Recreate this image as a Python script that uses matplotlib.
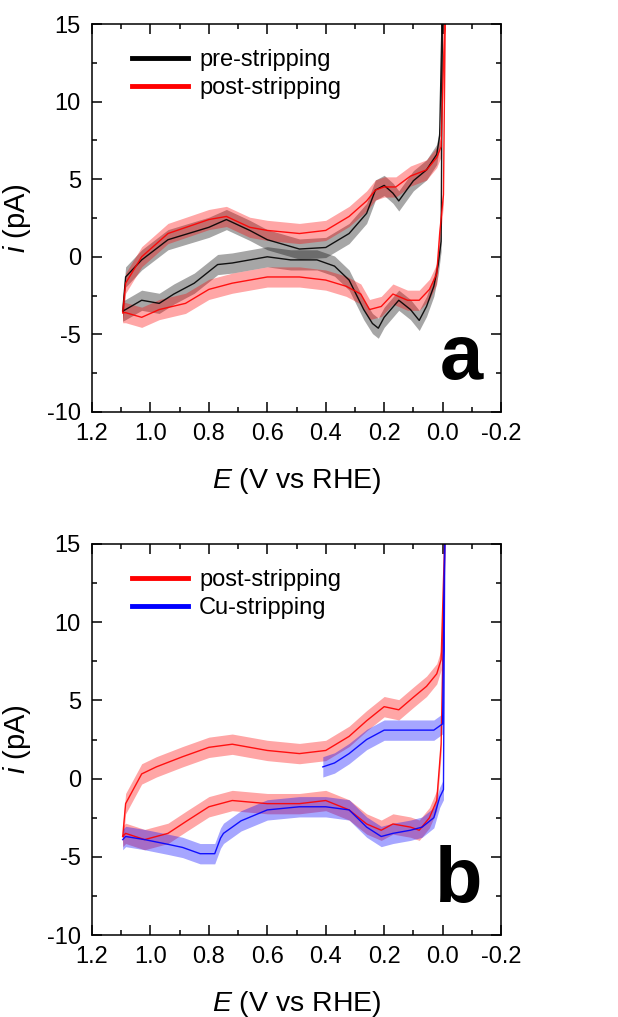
import numpy as np
import matplotlib
matplotlib.use("Agg")
import matplotlib.pyplot as plt
from matplotlib.ticker import MultipleLocator

plt.rcParams["font.family"] = ["Liberation Sans", "DejaVu Sans"]
plt.rcParams["mathtext.fontset"] = "custom"
plt.rcParams["mathtext.it"] = "Liberation Sans:italic"
plt.rcParams["mathtext.rm"] = "Liberation Sans"
plt.rcParams["axes.unicode_minus"] = False

# --- datos (E en V vs RHE, i en pA) ---
# rama inferior (barrido catodico) y rama superior (anodico), de E alto a E bajo
# panel a: pre-stripping
pre_E_dn = [1.095, 1.085, 1.03, 0.97, 0.92, 0.85, 0.77, 0.72, 0.60, 0.52, 0.43, 0.37,
            0.32, 0.27, 0.24, 0.22, 0.20, 0.15, 0.11, 0.08, 0.055, 0.03, 0.015, 0.005]
pre_i_dn = [-3.5, -3.4, -2.8, -3.0, -2.4, -1.7, -0.5, -0.4, 0.0, -0.2, -0.2, -0.6,
            -1.5, -3.4, -4.3, -4.6, -3.9, -2.8, -3.4, -4.1, -3.2, -1.9, -0.5, 1.0]
pre_E_up = [1.095, 1.085, 1.03, 0.94, 0.80, 0.74, 0.66, 0.60, 0.49, 0.40, 0.32, 0.26,
            0.23, 0.20, 0.17, 0.15, 0.10, 0.055, 0.02, 0.01]
pre_i_up = [-3.5, -1.3, -0.2, 1.1, 1.9, 2.4, 1.7, 1.1, 0.5, 0.6, 1.5, 2.8,
            4.3, 4.6, 4.1, 3.6, 4.9, 5.6, 6.6, 7.8]
pre_spike_E = 0.0

# panel a: post-stripping
posta_E_dn = [1.095, 1.085, 1.03, 0.97, 0.88, 0.80, 0.72, 0.60, 0.49, 0.40, 0.33, 0.28,
              0.25, 0.21, 0.17, 0.12, 0.08, 0.045, 0.02, 0.01, -0.003]
posta_i_dn = [-3.6, -3.6, -3.9, -3.4, -3.0, -2.1, -1.7, -1.3, -1.3, -1.5, -1.9, -2.4,
              -3.4, -3.2, -2.4, -2.8, -2.8, -2.1, -1.1, 1.5, 4.0]
posta_E_up = [1.095, 1.085, 1.03, 0.94, 0.80, 0.74, 0.66, 0.60, 0.49, 0.40, 0.32, 0.26,
              0.23, 0.20, 0.16, 0.11, 0.055, 0.02, 0.005]
posta_i_up = [-3.6, -1.7, 0.0, 1.5, 2.4, 2.6, 1.9, 1.7, 1.5, 1.7, 2.6, 3.6,
              4.3, 4.5, 4.5, 5.2, 5.6, 6.4, 7.1]
posta_spike_E = -0.01

# panel b: post-stripping
postb_E_dn = [1.095, 1.085, 1.02, 0.94, 0.875, 0.80, 0.72, 0.60, 0.49, 0.40, 0.32, 0.26,
              0.21, 0.17, 0.11, 0.08, 0.045, 0.02, 0.005]
postb_i_dn = [-3.7, -3.5, -3.9, -3.5, -2.7, -1.8, -1.4, -1.6, -1.6, -1.4, -2.0, -2.9,
              -3.3, -2.9, -3.1, -3.3, -2.5, -1.4, 2.2]
postb_E_up = [1.095, 1.085, 1.03, 0.98, 0.89, 0.80, 0.72, 0.60, 0.49, 0.40, 0.32, 0.26,
              0.20, 0.15, 0.10, 0.055, 0.02, 0.005]
postb_i_up = [-3.7, -1.6, 0.3, 0.75, 1.4, 2.0, 2.2, 1.8, 1.6, 1.8, 2.7, 3.7,
              4.6, 4.4, 5.2, 5.9, 6.7, 7.6]
postb_spike_E = -0.01

# panel b: Cu-stripping (empieza en 0.4 V)
cu_E_up = [0.41, 0.37, 0.32, 0.26, 0.20, 0.15, 0.09, 0.03, 0.0]
cu_i_up = [0.75, 1.0, 1.6, 2.5, 3.1, 3.1, 3.1, 3.1, 3.5]
cu_E_dn = [1.095, 1.085, 1.02, 0.94, 0.89, 0.83, 0.78, 0.76, 0.75, 0.69, 0.60, 0.49,
           0.40, 0.32, 0.26, 0.21, 0.17, 0.11, 0.07, 0.03, 0.01, -0.003]
cu_i_dn = [-3.9, -3.7, -3.9, -4.2, -4.4, -4.8, -4.8, -3.8, -3.5, -2.7, -2.0, -1.8,
           -1.8, -2.0, -3.1, -3.7, -3.5, -3.3, -3.1, -2.5, -1.2, -0.7]
cu_spike_E = -0.008

noise = 0.65  # semi-ancho aprox. del ruido (pA)


def draw_cv(ax, E_dn, i_dn, E_up, i_up, spike_E, color, label, close_loop=True):
    E_dn, i_dn = np.array(E_dn), np.array(i_dn)
    E_up, i_up = np.array(E_up), np.array(i_up)
    for E, i in [(E_dn, i_dn), (E_up, i_up)]:
        ax.fill_between(E, i - noise, i + noise, color=color, alpha=0.35, lw=0)
    if close_loop:
        E_all = np.concatenate([E_dn, [spike_E], E_up[::-1]])
        i_all = np.concatenate([i_dn, [17.0], i_up[::-1]])
    else:
        E_all = np.concatenate([E_up, [spike_E], E_dn[::-1]])
        i_all = np.concatenate([i_up, [17.0], i_dn[::-1]])
    ax.plot(E_all, i_all, color=color, lw=1.0, alpha=0.9)
    ax.plot([], [], color=color, lw=3.5, label=label)


def style_axes(ax, letter):
    ax.set_xlim(1.2, -0.2)
    ax.set_ylim(-10, 15)
    ax.xaxis.set_major_locator(MultipleLocator(0.2))
    ax.xaxis.set_minor_locator(MultipleLocator(0.1))
    ax.yaxis.set_major_locator(MultipleLocator(5))
    ax.yaxis.set_minor_locator(MultipleLocator(2.5))
    ax.xaxis.set_major_formatter(plt.FuncFormatter(lambda v, p: f"{v:.1f}"))
    ax.tick_params(which="both", direction="in", top=True, right=True, width=1.1,
                   labelsize=17, pad=8)
    ax.tick_params(which="major", length=7)
    ax.tick_params(which="minor", length=3.5)
    for s in ax.spines.values():
        s.set_linewidth(1.1)
    ax.set_xlabel(r"$E$ (V vs RHE)", fontsize=20.5, labelpad=15)
    ax.set_ylabel(r"$i$ (pA)", fontsize=21, labelpad=10)
    ax.text(0.955, 0.085, letter, transform=ax.transAxes, fontsize=56,
            fontweight="bold", ha="right", va="baseline")
    ax.legend(loc="upper left", bbox_to_anchor=(0.045, 0.99), frameon=False,
              fontsize=17, handlelength=2.4, handletextpad=0.45, labelspacing=0.25)


fig = plt.figure(figsize=(6.18, 10.17), dpi=100)
ax1 = fig.add_axes([0.1489, 0.5949, 0.6618, 0.3815])
ax2 = fig.add_axes([0.1489, 0.0806, 0.6618, 0.3845])

draw_cv(ax1, pre_E_dn, pre_i_dn, pre_E_up, pre_i_up, pre_spike_E, "black", "pre-stripping")
draw_cv(ax1, posta_E_dn, posta_i_dn, posta_E_up, posta_i_up, posta_spike_E, "#ff0000", "post-stripping")
style_axes(ax1, "a")

draw_cv(ax2, postb_E_dn, postb_i_dn, postb_E_up, postb_i_up, postb_spike_E, "#ff0000", "post-stripping")
draw_cv(ax2, cu_E_dn, cu_i_dn, cu_E_up, cu_i_up, cu_spike_E, "#0000ff", "Cu-stripping", close_loop=False)
style_axes(ax2, "b")

fig.savefig("out.png", dpi=100)
